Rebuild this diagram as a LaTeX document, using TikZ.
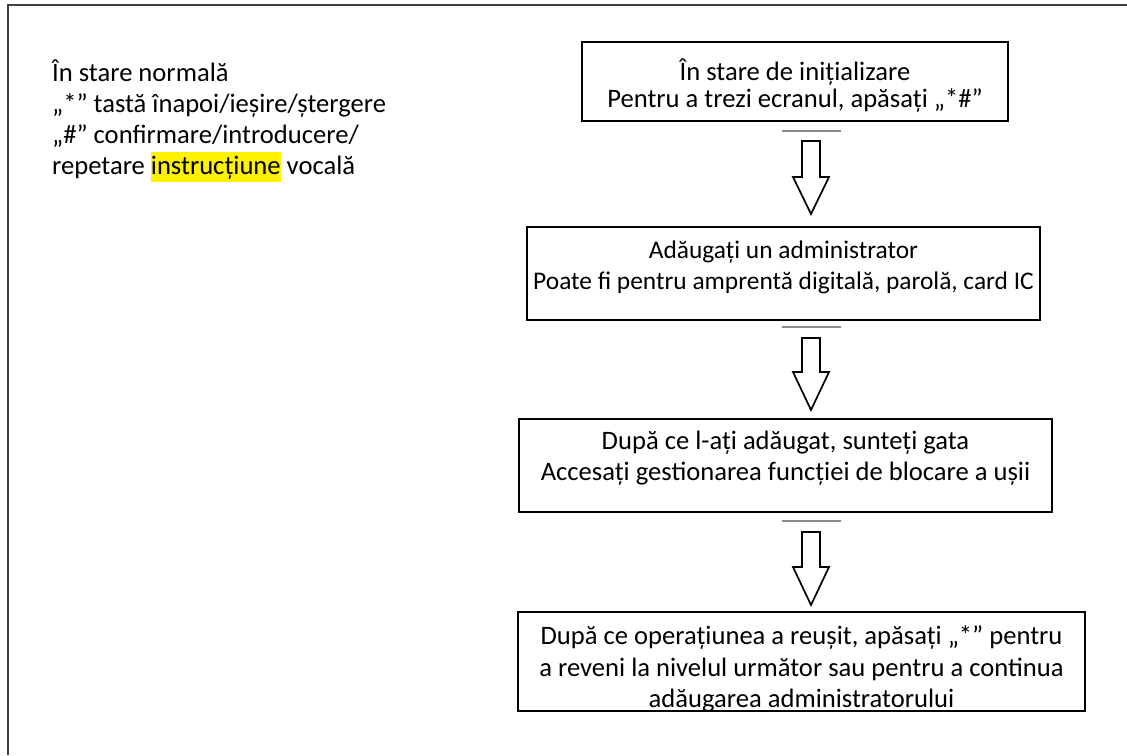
\documentclass[tikz,border=0pt]{standalone}
\usepackage{fontspec}
\setmainfont{Carlito}
\begin{document}
\begin{tikzpicture}[x=1pt,y=-1pt,
  txt/.style={font=\fontsize{26.6}{31}\selectfont, inner sep=0pt, anchor=north},
  stepbox/.style={draw, line width=1.2pt, inner sep=0pt},
  bararrow/.style={draw=black!45, line width=1.5pt},
  blockarrow/.style={draw, line width=1.7pt, fill=white, line join=miter}]
\useasboundingbox (0,0) rectangle (1127,755);
\draw[line width=1.6pt, draw=black!75] (8,755) -- (8,5) -- (1127,5);

\newcommand{\fl}{\rule{0pt}{24pt}}

\node[txt, anchor=north west, align=left] (note) at (52,57)
  {\fl În stare normală\\
   „*” tastă înapoi/ieșire/ștergere\\
   „\#” confirmare/introducere/\\
   repetare {\setlength{\fboxsep}{0pt}\colorbox{yellow}{\rule[-8pt]{0pt}{30pt}instrucțiune}} vocală};

% boxes
\node[stepbox, minimum width=426pt, minimum height=79pt] (b1) at (795,81.5) {};
\node[stepbox, minimum width=513pt, minimum height=93pt] (b2) at (783.5,273.5) {};
\node[stepbox, minimum width=533pt, minimum height=93pt] (b3) at (785.5,465.5) {};
\node[stepbox, minimum width=567pt, minimum height=99pt] (b4) at (801.5,661.5) {};

% texts
\node[txt, align=center, font=\fontsize{26.6}{27}\selectfont] (t1) at ([yshift=-15pt]b1.north)
  {\fl În stare de inițializare\\Pentru a trezi ecranul, apăsați „*\#”};
\node[txt, align=center, font=\fontsize{25.4}{31}\selectfont] (t2) at ([yshift=-8pt]b2.north)
  {\fl Adăugați un administrator\\Poate fi pentru amprentă digitală, parolă, card IC};
\node[txt, align=center] (t3) at ([yshift=-7pt]b3.north)
  {\fl După ce l-ați adăugat, sunteți gata\\Accesați gestionarea funcției de blocare a ușii};
\node[txt, align=center, font=\fontsize{26.6}{31.5}\selectfont] (t4) at ([yshift=-9pt]b4.north)
  {\fl După ce operațiunea a reușit, apăsați „*” pentru\\a reveni la nivelul următor sau pentru a continua\\adăugarea administratorului};

% connectors
\foreach \a/\b/\g/\s/\h/\t in {b1/b2/131/141/177/214, b2/b3/327/338/372/410, b3/b4/521/532/567/605} {
  \coordinate (g-\a) at (811,\g);
  \draw[bararrow] ([xshift=-29pt]g-\a) -- ([xshift=30pt]g-\a);
  \draw[blockarrow] (802,\s) -- (820,\s) -- (820,\h) -- (829,\h) -- (811,\t)
     -- (793,\h) -- (802,\h) -- cycle;
}
\end{tikzpicture}
\end{document}
